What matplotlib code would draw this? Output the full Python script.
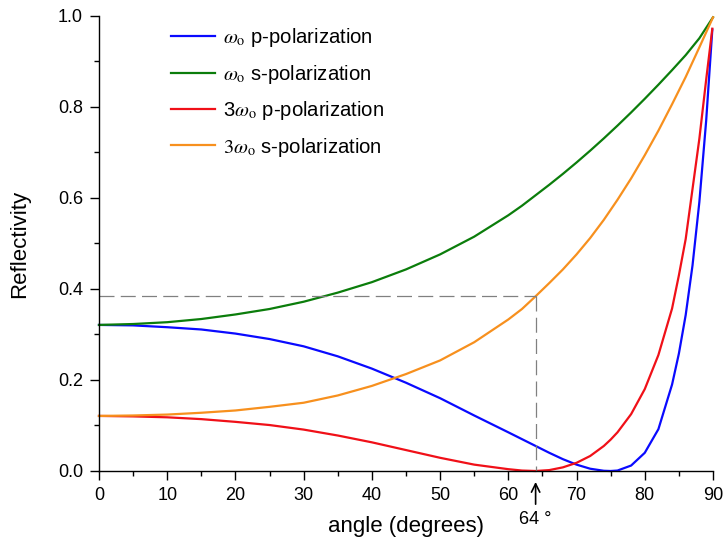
import numpy as np
import matplotlib
matplotlib.use('Agg')
import matplotlib.pyplot as plt
from matplotlib.ticker import MultipleLocator

plt.rcParams['font.family'] = ['Liberation Sans', 'DejaVu Sans']
plt.rcParams['mathtext.fontset'] = 'stix'

# angles (degrees) and reflectivity
ang_s = [0, 5, 10, 15, 20, 25, 30, 35, 40, 45, 50, 55, 60, 62, 64, 66, 68, 70,
         72, 74, 76, 78, 80, 82, 84, 86, 88, 90]
w_s = [0.321, 0.323, 0.327, 0.334, 0.344, 0.356, 0.372, 0.392, 0.415, 0.443,
       0.476, 0.515, 0.562, 0.583, 0.606, 0.629, 0.653, 0.678, 0.704, 0.731,
       0.759, 0.788, 0.818, 0.849, 0.881, 0.914, 0.951, 0.997]
w3_s = [0.121, 0.122, 0.124, 0.128, 0.133, 0.141, 0.150, 0.166, 0.187, 0.213,
        0.243, 0.283, 0.333, 0.356, 0.384, 0.413, 0.443, 0.476, 0.512, 0.552,
        0.596, 0.643, 0.694, 0.748, 0.806, 0.866, 0.931, 0.997]

ang_p = [0, 5, 10, 15, 20, 25, 30, 35, 40, 45, 50, 55, 60, 62, 64, 66, 68, 70,
         72, 74, 75, 76, 78, 80, 82, 84, 85, 86, 87, 88, 89, 89.9]
w_p = [0.321, 0.320, 0.316, 0.311, 0.302, 0.290, 0.274, 0.252, 0.225, 0.194,
       0.160, 0.122, 0.085, 0.070, 0.055, 0.040, 0.026, 0.014, 0.005, 0.0005,
       0.0, 0.001, 0.012, 0.040, 0.092, 0.190, 0.258, 0.343, 0.452, 0.591,
       0.770, 0.970]
w3_p = [0.121, 0.120, 0.118, 0.114, 0.108, 0.101, 0.091, 0.078, 0.063, 0.046,
        0.029, 0.014, 0.004, 0.001, 0.0, 0.002, 0.008, 0.018, 0.033, 0.055,
        0.069, 0.085, 0.125, 0.180, 0.255, 0.357, 0.430, 0.510, 0.620, 0.730,
        0.860, 0.972]

mark_angle = 64
mark_refl = 0.385

fig = plt.figure(figsize=(7.24, 5.43), dpi=100)
ax = fig.add_axes([0.1367, 0.1326, 0.8481, 0.838])

ax.plot(ang_p, w_p, color='#0a0aff', lw=1.6, label=r'$\omega_{\rm o}$ p-polarization', clip_on=False)
ax.plot(ang_s, w_s, color='#0b7d0b', lw=1.6, label=r'$\omega_{\rm o}$ s-polarization', clip_on=False)
ax.plot(ang_p, w3_p, color='#f01018', lw=1.6, label=r'3$\omega_{\rm o}$ p-polarization', clip_on=False)
ax.plot(ang_s, w3_s, color='#f7901e', lw=1.6, label=r'$3\omega_{\rm o}$ s-polarization', clip_on=False)

# guide lines at 64 degrees
ax.plot([0, mark_angle], [mark_refl, mark_refl], color='#808080', lw=0.9, dashes=(12, 5))
ax.plot([mark_angle, mark_angle], [mark_refl, 0], color='#808080', lw=0.9, dashes=(12, 5))

ax.annotate('', xy=(mark_angle, -0.018), xytext=(mark_angle, -0.079),
            xycoords=('data', 'axes fraction'), textcoords=('data', 'axes fraction'),
            arrowprops=dict(arrowstyle='->', lw=1.2, color='black', mutation_scale=15))
ax.text(mark_angle, -0.087, '64 °', transform=ax.get_xaxis_transform(),
        ha='center', va='top', fontsize=13)

ax.set_xlim(0, 90)
ax.set_ylim(0, 1.0)
ax.xaxis.set_major_locator(MultipleLocator(10))
ax.xaxis.set_minor_locator(MultipleLocator(5))
ax.yaxis.set_major_locator(MultipleLocator(0.2))
ax.yaxis.set_minor_locator(MultipleLocator(0.1))
ax.yaxis.set_major_formatter(plt.FormatStrFormatter('%.1f'))
ax.tick_params(which='major', direction='out', length=6.5, width=1, labelsize=13, pad=5)
ax.tick_params(which='minor', direction='out', length=3.5, width=1)
for s in ['top', 'right']:
    ax.spines[s].set_visible(False)
for s in ['left', 'bottom']:
    ax.spines[s].set_linewidth(1)

ax.set_xlabel('angle (degrees)', fontsize=16, labelpad=9)
ax.set_ylabel('Reflectivity', fontsize=16, labelpad=20)

ax.legend(loc='upper left', bbox_to_anchor=(0.117, 0.977), frameon=False,
          fontsize=14.6, handlelength=2.2, handletextpad=0.35, labelspacing=0.66,
          borderpad=0, borderaxespad=0)

fig.savefig('out.png', dpi=100)
